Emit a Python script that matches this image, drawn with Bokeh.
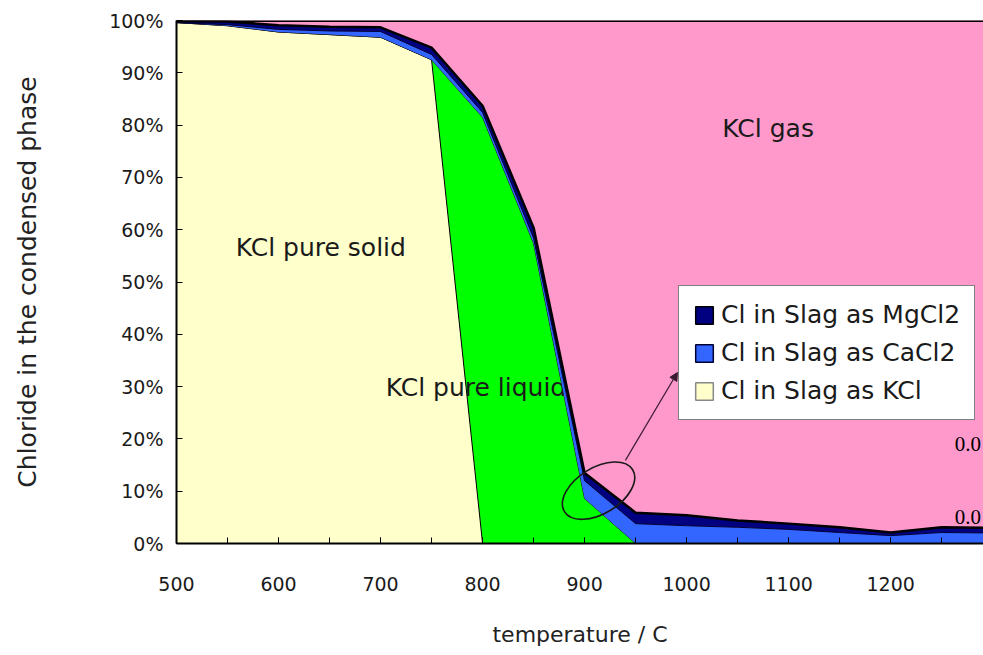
import numpy as np
from bokeh.plotting import figure
from bokeh.models import (ColumnDataSource, Range1d, SingleIntervalTicker, PrintfTickFormatter,
                          Legend, LegendItem, Span, Arrow, NormalHead, Label)
from bokeh.transform import stack
from bokeh.core.properties import value
from bokeh.embed import file_html
from bokeh.resources import INLINE

# ---------------- data ----------------
temperature = [500, 550, 600, 650, 700, 750, 800, 850, 900, 950, 1000, 1050, 1100, 1150, 1200, 1250, 1300]
kcl_solid   = [99.6, 99.0, 97.8, 97.3, 96.8, 92.5, 0, 0, 0, 0, 0, 0, 0, 0, 0, 0, 0]
kcl_liquid  = [0, 0, 0, 0, 0, 0, 81.5, 57.4, 8.6, 0, 0, 0, 0, 0, 0, 0, 0]
cl_cacl2    = [0, 0.2, 0.5, 0.7, 1.1, 1.0, 0.9, 1.0, 3.4, 3.8, 3.4, 3.1, 2.7, 2.1, 1.5, 2.1, 2.0]
cl_mgcl2    = [0.3, 0.6, 0.8, 0.8, 0.8, 1.3, 1.3, 2.0, 1.5, 2.1, 2.0, 1.3, 1.1, 1.0, 0.6, 1.0, 1.0]

legend_labels = ["Cl in Slag as MgCl2", "Cl in Slag as CaCl2", "Cl in Slag as KCl"]
region_texts = ["KCl pure solid", "KCl pure liquid", "KCl gas"]
region_x = [558, 705, 1035]
region_y = [56.6, 29.8, 79.4]

# hand-drawn annotation (ellipse + arrow)
ellipse_center = (913.7, 10.1)
arrow_start = (940, 15.9)
arrow_end = (991, 32.7)

C_GAS = "#FF99CC"
C_SOLID = "#FFFFCC"
C_LIQ = "#00FF00"
C_CA = "#3366FF"
C_MG = "#000080"
FONT = "DejaVu Sans"
TXT = "#1a1a1a"

src = ColumnDataSource(dict(x=temperature, solid=kcl_solid, liquid=kcl_liquid,
                            ca=cl_cacl2, mg=cl_mgcl2))

p = figure(width=983, height=655, output_backend="svg", toolbar_location=None,
           x_range=Range1d(500, 1291), y_range=Range1d(0, 100),
           min_border_left=176, min_border_right=0, min_border_top=20, min_border_bottom=112)
p.background_fill_color = C_GAS
p.border_fill_color = "white"
p.outline_line_color = None
p.xgrid.visible = False
p.ygrid.visible = False

# stacked areas (bottom to top)
p.varea(x="x", y1=0, y2=stack("solid"), source=src, fill_color=C_SOLID)
p.varea(x="x", y1=stack("solid"), y2=stack("solid", "liquid"), source=src, fill_color=C_LIQ)
p.line(x="x", y=stack("solid"), source=src, line_color="black", line_width=1)
p.line(x="x", y=stack("solid", "liquid"), source=src, line_color="#111111", line_width=1)

# "KCl pure liquid" label sits beneath the slag bands
p.text(x=[region_x[1]], y=[region_y[1]], text=[region_texts[1]], text_font=value(FONT),
       text_font_size="25px", text_color=TXT, text_align="left", text_baseline="middle")

p.varea(x="x", y1=stack("solid", "liquid"), y2=stack("solid", "liquid", "ca"), source=src, fill_color=C_CA)
p.varea(x="x", y1=stack("solid", "liquid", "ca"), y2=stack("solid", "liquid", "ca", "mg"),
        source=src, fill_color=C_MG)
p.line(x="x", y=stack("solid", "liquid", "ca"), source=src, line_color="#000033", line_width=1)
p.line(x="x", y=stack("solid", "liquid", "ca", "mg"), source=src, line_color="black", line_width=2.5)

for i in (0, 2):
    p.text(x=[region_x[i]], y=[region_y[i]], text=[region_texts[i]], text_font=value(FONT),
           text_font_size="25px", text_color=TXT, text_align="left", text_baseline="middle")

# ellipse and arrow
p.ellipse(x=[ellipse_center[0]], y=[ellipse_center[1]], width=80, height=46, angle=0.55,
          width_units="screen", height_units="screen", fill_color=None,
          line_color="#1a1a1a", line_width=1.6)
p.add_layout(Arrow(end=NormalHead(size=8, fill_color="#3a1a30", line_color="#3a1a30"),
                   x_start=arrow_start[0], y_start=arrow_start[1],
                   x_end=arrow_end[0], y_end=arrow_end[1],
                   line_color="#3a1a30", line_width=1.2))

# top frame line
p.add_layout(Span(location=100, dimension="width", line_color="black", line_width=3))

# axes
p.xaxis.ticker = SingleIntervalTicker(interval=100, num_minor_ticks=2)
p.yaxis.ticker = SingleIntervalTicker(interval=10, num_minor_ticks=0)
p.yaxis.formatter = PrintfTickFormatter(format="%d%%")
for ax in (p.xaxis[0], p.yaxis[0]):
    ax.axis_line_color = "black"
    ax.axis_line_width = 2
    ax.major_tick_in = 6
    ax.major_tick_out = 0
    ax.minor_tick_in = 6
    ax.minor_tick_out = 0
    ax.major_tick_line_color = "black"
    ax.minor_tick_line_color = "black"
    ax.major_label_text_font = FONT
    ax.major_label_text_font_size = "19px"
    ax.major_label_text_color = TXT
    ax.axis_label_text_font = FONT
    ax.axis_label_text_font_style = "normal"
    ax.axis_label_text_color = "#222222"
p.xaxis.axis_label = "temperature / C"
p.yaxis.axis_label = "Chloride in the condensed phase"
p.xaxis.axis_label_text_font_size = "22px"
p.yaxis.axis_label_text_font_size = "25px"
p.xaxis.major_label_standoff = 33
p.xaxis.axis_label_standoff = 28
p.yaxis.major_label_standoff = 13
p.yaxis.axis_label_standoff = 64

# legend swatches (bordered squares, no visible data)
nan_quad = dict(left=np.array([np.nan]), right=np.array([np.nan]),
                top=np.array([np.nan]), bottom=np.array([np.nan]))
r_mg = p.quad(source=ColumnDataSource(nan_quad), left="left", right="right", top="top", bottom="bottom",
              fill_color=C_MG, line_color="black", line_width=1.5)
r_ca = p.quad(source=ColumnDataSource(nan_quad), left="left", right="right", top="top", bottom="bottom",
              fill_color=C_CA, line_color="#000033", line_width=1.5)
r_k = p.quad(source=ColumnDataSource(nan_quad), left="left", right="right", top="top", bottom="bottom",
             fill_color=C_SOLID, line_color="#888888", line_width=1.5)
legend = Legend(items=[LegendItem(label=legend_labels[0], renderers=[r_mg]),
                       LegendItem(label=legend_labels[1], renderers=[r_ca]),
                       LegendItem(label=legend_labels[2], renderers=[r_k])],
                location=(502, 123), orientation="vertical",
                border_line_color="black", border_line_width=1,
                background_fill_color="white", background_fill_alpha=1,
                label_text_font=FONT, label_text_font_size="25px", label_text_color=TXT,
                glyph_width=22, glyph_height=22, label_height=22, spacing=9,
                padding=14, margin=0, label_standoff=6)
p.add_layout(legend)

# stray fragments of a neighbouring graphic visible at the right edge of the plot area
for ytxt in (19.1, 5.0):
    p.add_layout(Label(x=1262.7, y=ytxt, text="0.0", text_font="Liberation Serif",
                       text_font_size="21px", text_color="black", text_baseline="middle"))

open("out.html", "w").write(file_html(p, INLINE))
